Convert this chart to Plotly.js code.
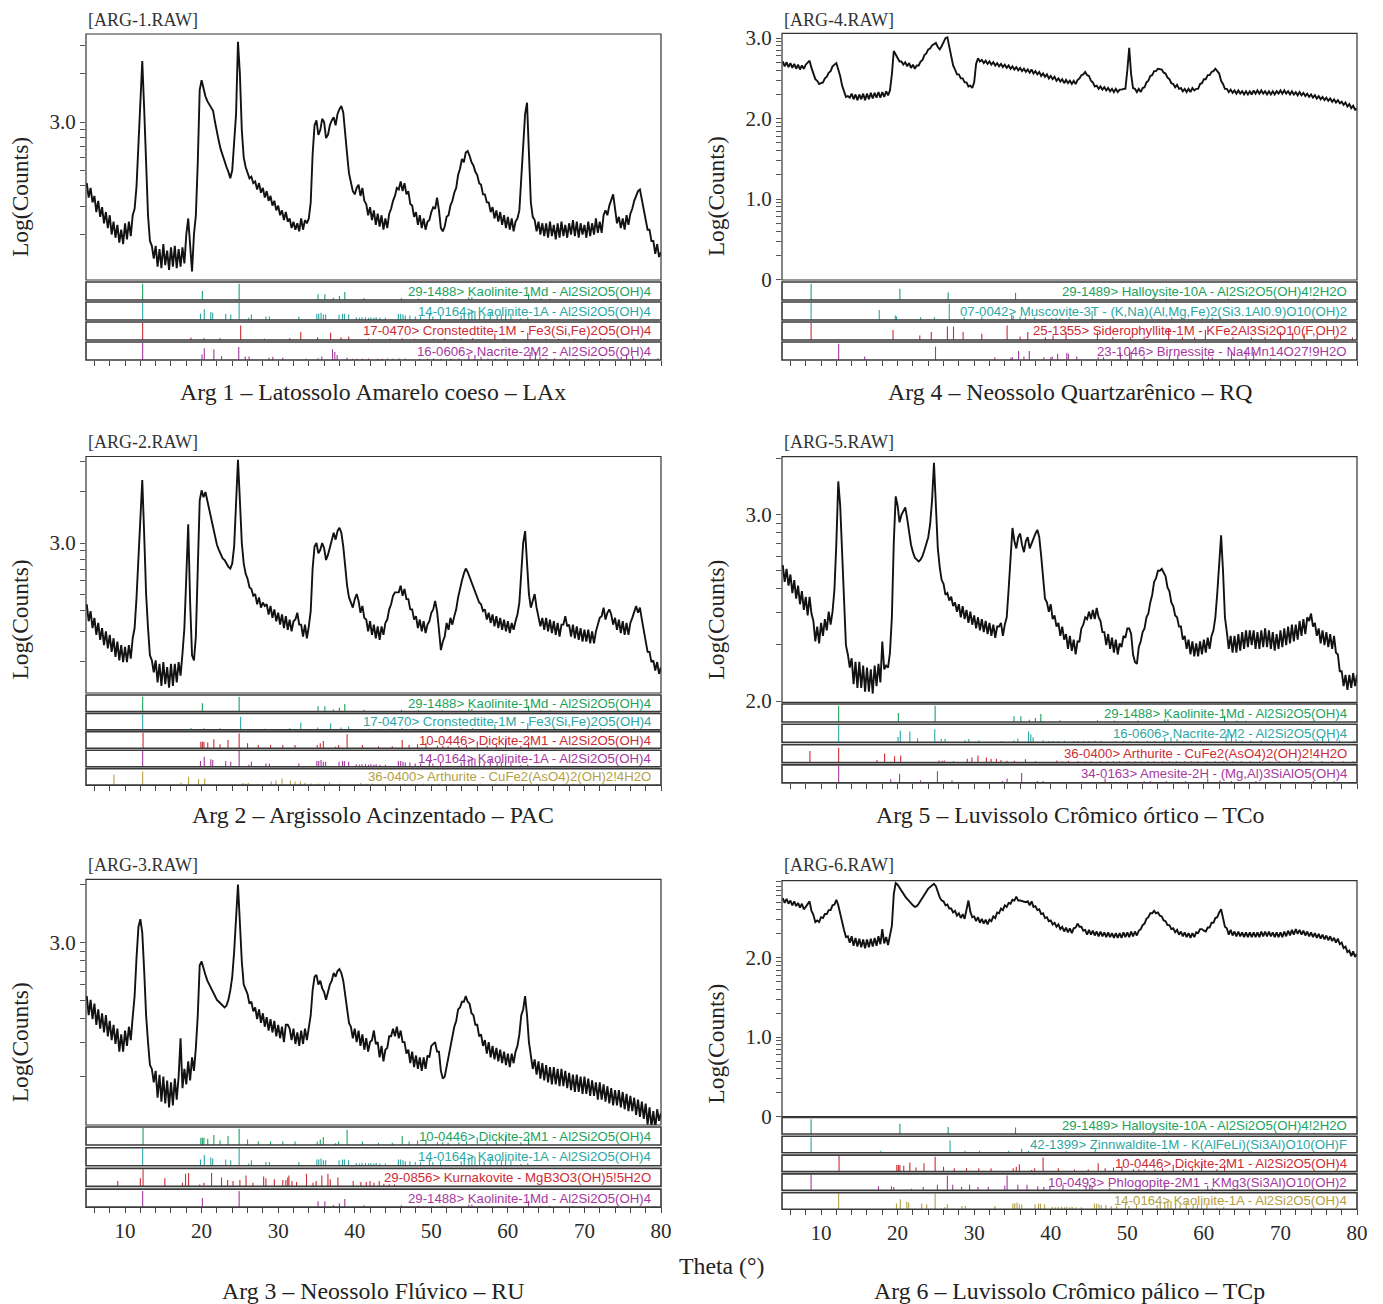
<!DOCTYPE html>
<html><head><meta charset="utf-8">
<script src="https://cdn.plot.ly/plotly-3.0.1.min.js"></script>
<style>body{margin:0;background:#fff}#c{width:1383px;height:1304px}</style>
</head><body><div id="c"></div>
<script>
// ---------------- DATA ----------------
// scan: 2-theta from 5 to 80 deg, step 0.25 ; values = log10(counts)
const scanStart = 5, scanStep = 0.25;
const arg1 = [2.62,2.53,2.59,2.50, 2.54,2.44,2.51,2.41, 2.47,2.37,2.44,2.34, 2.42,2.30,2.38,2.28, 2.36,2.25,2.33,2.24,
 2.37,2.27,2.38,2.29, 2.42,2.46,2.60,2.88, 3.15,3.38,3.08,2.70, 2.42,2.26,2.23,2.15, 2.23,2.10,2.21,2.09,
 2.24,2.11,2.20,2.08, 2.22,2.10,2.23,2.09, 2.21,2.10,2.22,2.12, 2.30,2.40,2.22,2.07, 2.30,2.42,2.75,3.20,
 3.26,3.20,3.16,3.13, 3.11,3.09,3.07,3.00, 2.93,2.88,2.83,2.79, 2.76,2.72,2.69,2.65, 2.70,2.85,3.05,3.50,
 3.30,2.95,2.78,2.72, 2.69,2.65,2.66,2.62, 2.63,2.58,2.62,2.56, 2.59,2.53,2.57,2.51, 2.54,2.48,2.51,2.45,
 2.48,2.42,2.45,2.39, 2.44,2.38,2.40,2.34, 2.38,2.33,2.37,2.32, 2.40,2.33,2.39,2.37, 2.40,2.50,2.80,2.98,
 3.01,2.92,2.95,3.02, 3.00,2.90,2.92,2.98, 3.01,3.03,2.98,3.05, 3.08,3.10,3.06,2.95, 2.80,2.68,2.62,2.57,
 2.55,2.59,2.61,2.54, 2.59,2.51,2.49,2.42, 2.47,2.39,2.45,2.36, 2.43,2.35,2.42,2.33, 2.40,2.34,2.43,2.46,
 2.51,2.54,2.59,2.58, 2.63,2.57,2.62,2.55, 2.57,2.49,2.48,2.41, 2.44,2.36,2.42,2.34, 2.40,2.33,2.38,2.39,
 2.44,2.47,2.46,2.53, 2.45,2.34,2.32,2.35, 2.41,2.42,2.48,2.51, 2.56,2.59,2.67,2.71, 2.77,2.75,2.81,2.82,
 2.79,2.75,2.73,2.69, 2.67,2.62,2.61,2.55, 2.55,2.50,2.50,2.44, 2.47,2.40,2.45,2.38, 2.44,2.36,2.42,2.34,
 2.41,2.33,2.40,2.32, 2.38,2.40,2.45,2.65, 2.80,3.05,3.12,2.80, 2.50,2.41,2.39,2.32, 2.38,2.30,2.37,2.29,
 2.37,2.28,2.38,2.29, 2.36,2.27,2.37,2.28, 2.38,2.29,2.36,2.28, 2.37,2.30,2.39,2.29, 2.38,2.28,2.37,2.30,
 2.36,2.28,2.38,2.29, 2.37,2.30,2.40,2.31, 2.38,2.31,2.42,2.45, 2.42,2.48,2.51,2.55, 2.46,2.37,2.41,2.34,
 2.40,2.33,2.42,2.36, 2.43,2.46,2.51,2.54, 2.57,2.58,2.52,2.45, 2.41,2.33,2.33,2.26, 2.26,2.18,2.24,2.16, 2.19];
const arg2 = [2.64,2.54,2.60,2.50, 2.56,2.46,2.53,2.43, 2.50,2.40,2.48,2.38, 2.46,2.36,2.44,2.33, 2.42,2.31,2.40,2.30,
 2.39,2.30,2.40,2.32, 2.44,2.50,2.68,2.90, 3.15,3.37,3.05,2.70, 2.50,2.34,2.31,2.24, 2.31,2.18,2.29,2.16,
 2.30,2.17,2.27,2.15, 2.29,2.16,2.29,2.18, 2.30,2.22,2.35,2.50, 2.80,3.11,2.65,2.34, 2.31,2.45,2.85,3.25,
 3.31,3.27,3.30,3.25, 3.20,3.14,3.08,3.03, 2.99,2.96,2.93,2.91, 2.90,2.88,2.86,2.85, 2.88,2.98,3.20,3.49,
 3.25,3.00,2.88,2.82, 2.79,2.74,2.73,2.69, 2.70,2.64,2.68,2.62, 2.65,2.63,2.64,2.58, 2.63,2.56,2.61,2.54,
 2.59,2.52,2.58,2.50, 2.57,2.49,2.55,2.48, 2.54,2.55,2.59,2.52, 2.52,2.45,2.52,2.44, 2.51,2.60,2.85,2.98,
 3.00,2.94,2.96,3.00, 2.97,2.90,2.93,2.98, 3.02,3.06,3.02,3.07, 3.09,3.06,2.98,2.85, 2.75,2.68,2.65,2.62,
 2.67,2.70,2.66,2.59, 2.63,2.56,2.55,2.48, 2.54,2.46,2.52,2.44, 2.51,2.43,2.51,2.46, 2.53,2.55,2.61,2.64,
 2.69,2.71,2.71,2.71, 2.75,2.69,2.73,2.67, 2.67,2.61,2.61,2.55, 2.57,2.50,2.55,2.48, 2.54,2.47,2.52,2.54,
 2.59,2.61,2.66,2.60, 2.49,2.37,2.42,2.45, 2.53,2.49,2.56,2.52, 2.57,2.61,2.68,2.74, 2.78,2.82,2.85,2.83,
 2.80,2.77,2.74,2.71, 2.69,2.65,2.64,2.60, 2.61,2.55,2.59,2.53, 2.58,2.51,2.57,2.50, 2.56,2.49,2.55,2.48,
 2.54,2.47,2.53,2.49, 2.54,2.58,2.65,2.85, 3.00,3.07,2.90,2.70, 2.62,2.66,2.70,2.62, 2.57,2.51,2.56,2.49,
 2.56,2.48,2.55,2.47, 2.54,2.46,2.53,2.45, 2.52,2.52,2.57,2.51, 2.52,2.45,2.52,2.44, 2.51,2.43,2.50,2.42,
 2.49,2.42,2.49,2.41, 2.48,2.41,2.48,2.52, 2.56,2.57,2.62,2.55, 2.59,2.61,2.58,2.52, 2.56,2.49,2.55,2.47,
 2.54,2.46,2.53,2.46, 2.53,2.56,2.60,2.63, 2.59,2.62,2.55,2.48, 2.43,2.36,2.36,2.30, 2.31,2.25,2.30,2.23, 2.27];
const arg3 = [2.72,2.62,2.70,2.60, 2.68,2.57,2.65,2.55, 2.63,2.53,2.62,2.51, 2.59,2.49,2.57,2.47, 2.55,2.43,2.52,2.43,
 2.54,2.46,2.56,2.49, 2.61,2.72,2.92,3.08, 3.12,3.05,2.85,2.62, 2.48,2.36,2.34,2.27, 2.33,2.19,2.31,2.17,
 2.30,2.16,2.28,2.14, 2.27,2.15,2.29,2.18, 2.30,2.50,2.24,2.34, 2.26,2.38,2.28,2.40, 2.33,2.45,2.62,2.88,
 2.90,2.86,2.83,2.80, 2.78,2.76,2.74,2.72, 2.70,2.69,2.68,2.67, 2.66,2.67,2.70,2.75, 2.82,2.95,3.10,3.30,
 3.10,2.90,2.78,2.75, 2.73,2.68,2.69,2.64, 2.66,2.60,2.65,2.58, 2.63,2.56,2.61,2.54, 2.60,2.53,2.59,2.51,
 2.57,2.50,2.56,2.48, 2.57,2.57,2.55,2.49, 2.55,2.47,2.53,2.46, 2.54,2.47,2.55,2.49, 2.56,2.62,2.75,2.82,
 2.83,2.78,2.80,2.76, 2.74,2.70,2.74,2.78, 2.80,2.84,2.82,2.85, 2.86,2.84,2.80,2.72, 2.65,2.58,2.56,2.50,
 2.55,2.48,2.54,2.46, 2.52,2.44,2.50,2.43, 2.48,2.49,2.54,2.47, 2.48,2.40,2.46,2.38, 2.44,2.45,2.51,2.51,
 2.55,2.51,2.56,2.50, 2.54,2.48,2.48,2.42, 2.44,2.37,2.43,2.35, 2.41,2.34,2.40,2.33, 2.40,2.34,2.41,2.40,
 2.46,2.47,2.48,2.43, 2.43,2.33,2.29,2.30, 2.35,2.39,2.46,2.49, 2.56,2.59,2.65,2.66, 2.69,2.69,2.72,2.69,
 2.68,2.63,2.62,2.57, 2.57,2.51,2.52,2.46, 2.49,2.42,2.48,2.40, 2.46,2.39,2.45,2.38, 2.44,2.37,2.43,2.36,
 2.42,2.35,2.42,2.37, 2.43,2.46,2.52,2.62, 2.65,2.72,2.62,2.48, 2.41,2.34,2.39,2.31, 2.38,2.29,2.37,2.28,
 2.36,2.27,2.35,2.26, 2.35,2.26,2.34,2.25, 2.34,2.25,2.33,2.24, 2.32,2.23,2.31,2.22, 2.31,2.22,2.30,2.21,
 2.30,2.21,2.29,2.20, 2.28,2.20,2.27,2.18, 2.27,2.18,2.26,2.17, 2.25,2.16,2.24,2.15, 2.23,2.15,2.23,2.14,
 2.22,2.13,2.21,2.12, 2.20,2.12,2.19,2.10, 2.18,2.09,2.17,2.08, 2.16,2.05,2.14,2.04, 2.12,2.03,2.13,2.07, 2.11];
const arg4 = [2.71,2.65,2.70,2.64, 2.69,2.63,2.68,2.62, 2.67,2.61,2.66,2.62, 2.67,2.70,2.72,2.63, 2.57,2.49,2.47,2.43,
 2.44,2.45,2.50,2.52, 2.57,2.59,2.65,2.67, 2.69,2.61,2.53,2.41, 2.35,2.27,2.28,2.26, 2.31,2.24,2.30,2.23,
 2.30,2.24,2.31,2.23, 2.31,2.24,2.32,2.25, 2.32,2.26,2.33,2.26, 2.33,2.27,2.34,2.29, 2.35,2.55,2.84,2.80,
 2.75,2.71,2.71,2.67, 2.70,2.65,2.69,2.63, 2.67,2.62,2.66,2.66, 2.71,2.73,2.79,2.81, 2.86,2.87,2.91,2.92,
 2.94,2.89,2.86,2.90, 2.95,3.00,3.01,2.88, 2.75,2.66,2.61,2.55, 2.55,2.50,2.50,2.45, 2.45,2.40,2.41,2.38,
 2.45,2.68,2.75,2.71, 2.73,2.69,2.72,2.68, 2.71,2.67,2.70,2.66, 2.69,2.65,2.68,2.64, 2.67,2.63,2.66,2.62,
 2.65,2.61,2.64,2.60, 2.63,2.59,2.62,2.58, 2.61,2.57,2.61,2.56, 2.59,2.55,2.58,2.53, 2.56,2.52,2.55,2.50,
 2.53,2.49,2.52,2.47, 2.50,2.46,2.49,2.44, 2.48,2.44,2.47,2.43, 2.47,2.43,2.48,2.50, 2.54,2.55,2.58,2.54,
 2.53,2.47,2.45,2.40, 2.41,2.37,2.40,2.36, 2.39,2.35,2.38,2.34, 2.37,2.33,2.37,2.33, 2.36,2.36,2.37,2.37,
 2.60,2.88,2.55,2.38, 2.37,2.33,2.37,2.33, 2.38,2.39,2.45,2.47, 2.53,2.54,2.59,2.59, 2.62,2.61,2.61,2.57,
 2.56,2.51,2.49,2.44, 2.43,2.39,2.42,2.37, 2.38,2.34,2.37,2.33, 2.37,2.33,2.38,2.35, 2.37,2.37,2.43,2.44,
 2.49,2.49,2.54,2.54, 2.58,2.59,2.62,2.59, 2.56,2.47,2.43,2.37, 2.37,2.33,2.36,2.32, 2.35,2.31,2.35,2.31,
 2.34,2.30,2.34,2.30, 2.34,2.30,2.35,2.31, 2.35,2.31,2.35,2.31, 2.34,2.30,2.34,2.30, 2.34,2.30,2.34,2.31,
 2.35,2.31,2.35,2.31, 2.34,2.30,2.34,2.30, 2.33,2.29,2.33,2.29, 2.32,2.28,2.31,2.27, 2.30,2.26,2.29,2.25,
 2.28,2.24,2.27,2.23, 2.26,2.22,2.25,2.21, 2.24,2.20,2.23,2.19, 2.21,2.17,2.20,2.15, 2.18,2.13,2.16,2.11, 2.12];
const arg5 = [2.73,2.64,2.71,2.62, 2.68,2.58,2.65,2.55, 2.62,2.52,2.59,2.49, 2.56,2.46,2.56,2.47, 2.43,2.32,2.40,2.31,
 2.42,2.35,2.44,2.38, 2.48,2.41,2.48,2.60, 2.85,3.18,3.05,2.80, 2.50,2.30,2.25,2.18, 2.23,2.09,2.21,2.07,
 2.21,2.07,2.19,2.05, 2.18,2.05,2.17,2.04, 2.19,2.08,2.20,2.10, 2.32,2.17,2.19,2.18, 2.26,2.45,2.85,3.10,
 3.05,2.96,3.00,3.02, 3.04,2.98,2.90,2.84, 2.80,2.77,2.76,2.75, 2.76,2.78,2.81,2.85, 2.88,2.95,3.08,3.28,
 3.00,2.82,2.72,2.65, 2.63,2.57,2.58,2.54, 2.56,2.51,2.53,2.48, 2.52,2.45,2.51,2.44, 2.49,2.42,2.48,2.41,
 2.46,2.39,2.45,2.38, 2.44,2.37,2.43,2.36, 2.42,2.35,2.41,2.34, 2.40,2.40,2.42,2.35, 2.41,2.45,2.60,2.80,
 2.93,2.86,2.82,2.88, 2.90,2.84,2.80,2.86, 2.88,2.82,2.85,2.88, 2.90,2.92,2.88,2.78, 2.65,2.55,2.53,2.48,
 2.52,2.44,2.46,2.40, 2.42,2.35,2.40,2.33, 2.36,2.28,2.35,2.27, 2.33,2.25,2.32,2.32, 2.39,2.41,2.45,2.44,
 2.48,2.44,2.49,2.44, 2.50,2.45,2.43,2.37, 2.37,2.30,2.36,2.28, 2.34,2.26,2.33,2.25, 2.31,2.29,2.35,2.34,
 2.39,2.39,2.36,2.25, 2.21,2.20,2.29,2.32, 2.37,2.39,2.45,2.47, 2.53,2.57,2.64,2.66, 2.70,2.70,2.71,2.69,
 2.67,2.61,2.59,2.53, 2.51,2.46,2.45,2.40, 2.40,2.33,2.35,2.28, 2.33,2.25,2.32,2.24, 2.31,2.24,2.32,2.25,
 2.33,2.26,2.34,2.28, 2.35,2.38,2.45,2.58, 2.75,2.89,2.70,2.45, 2.37,2.28,2.35,2.26, 2.35,2.26,2.36,2.27,
 2.37,2.28,2.38,2.29, 2.38,2.30,2.38,2.28, 2.37,2.28,2.38,2.29, 2.39,2.29,2.38,2.28, 2.37,2.27,2.36,2.28,
 2.38,2.29,2.39,2.30, 2.40,2.31,2.41,2.32, 2.41,2.33,2.43,2.35, 2.44,2.36,2.45,2.43, 2.47,2.40,2.42,2.35,
 2.39,2.31,2.38,2.30, 2.37,2.29,2.36,2.28, 2.35,2.26,2.25,2.16, 2.16,2.08,2.14,2.06, 2.14,2.07,2.15,2.08, 2.14];
const arg6 = [2.75,2.69,2.74,2.68, 2.72,2.66,2.71,2.65, 2.69,2.63,2.68,2.61, 2.64,2.67,2.71,2.59, 2.54,2.45,2.47,2.45,
 2.51,2.50,2.55,2.55, 2.60,2.60,2.66,2.67, 2.73,2.66,2.55,2.42, 2.35,2.26,2.27,2.19, 2.27,2.15,2.25,2.14,
 2.24,2.13,2.23,2.12, 2.23,2.13,2.24,2.14, 2.25,2.15,2.27,2.17, 2.36,2.18,2.26,2.16, 2.28,2.40,2.80,2.94,
 2.92,2.88,2.84,2.80, 2.77,2.74,2.71,2.68, 2.66,2.64,2.65,2.68, 2.72,2.76,2.80,2.84, 2.87,2.89,2.91,2.93,
 2.90,2.82,2.76,2.72, 2.71,2.66,2.67,2.62, 2.62,2.57,2.59,2.53, 2.56,2.50,2.55,2.49, 2.60,2.72,2.58,2.51,
 2.52,2.46,2.51,2.44, 2.49,2.43,2.48,2.42, 2.48,2.46,2.52,2.50, 2.57,2.56,2.62,2.60, 2.66,2.64,2.69,2.68,
 2.73,2.72,2.77,2.72, 2.72,2.71,2.71,2.70, 2.71,2.66,2.71,2.64, 2.65,2.60,2.61,2.55, 2.56,2.50,2.51,2.46,
 2.47,2.42,2.44,2.39, 2.42,2.36,2.39,2.33, 2.38,2.32,2.37,2.31, 2.37,2.38,2.43,2.39, 2.39,2.34,2.35,2.29,
 2.35,2.29,2.34,2.28, 2.33,2.27,2.33,2.27, 2.32,2.26,2.32,2.26, 2.31,2.25,2.31,2.25, 2.31,2.25,2.32,2.26,
 2.32,2.26,2.33,2.27, 2.33,2.28,2.34,2.36, 2.41,2.43,2.49,2.51, 2.56,2.56,2.59,2.56, 2.57,2.53,2.52,2.47,
 2.46,2.41,2.41,2.36, 2.37,2.32,2.35,2.29, 2.33,2.27,2.32,2.26, 2.31,2.25,2.31,2.26, 2.32,2.31,2.36,2.36,
 2.34,2.33,2.38,2.38, 2.44,2.44,2.50,2.51, 2.57,2.61,2.50,2.39, 2.37,2.29,2.35,2.28, 2.33,2.27,2.33,2.27,
 2.32,2.26,2.32,2.26, 2.32,2.26,2.32,2.26, 2.32,2.26,2.33,2.27, 2.33,2.27,2.33,2.27, 2.32,2.26,2.32,2.26,
 2.32,2.26,2.33,2.27, 2.34,2.28,2.35,2.29, 2.36,2.30,2.35,2.29, 2.34,2.28,2.33,2.27, 2.32,2.26,2.31,2.25,
 2.30,2.24,2.29,2.23, 2.28,2.22,2.27,2.21, 2.25,2.19,2.24,2.17, 2.19,2.12,2.14,2.07, 2.09,2.02,2.08,2.01, 2.05];

// reference cards: 2-theta positions and relative intensities
const kao1MdPos=[12.3,20.1,24.9,35.2,36.1,37.2,38.0,38.7,41.2,46.1,48.3,51.4,54.9,55.3,62.7,64.3,65.5,68.4,72.5,74.3];
const kao1MdInt=[0.9,0.5,0.9,0.32,0.32,0.12,0.22,0.45,0.1,0.1,0.08,0.08,0.15,0.15,0.35,0.08,0.07,0.05,0.05,0.07];
const kao1APos=[12.3,19.85,20.35,21.2,21.45,23.15,23.8,24.9,26.15,26.5,28.4,28.85,32.7,35.05,35.3,35.6,35.9,36.2,37.95,38.4,38.65,39.2,40.2,40.6,40.95,41.4,41.8,42.1,42.5,42.8,43.3,44.0,45.7,46.0,46.3,46.6,47.2,47.9,48.6,49.75,50.2,51.2,53.9,54.3,54.9,55.3,55.7,56.3,56.9,57.7,58.6,59.15,59.7,60.4,61.7,62.6];
const kao1AInt=[0.95,0.35,0.6,0.45,0.4,0.35,0.3,0.95,0.12,0.3,0.2,0.2,0.2,0.35,0.35,0.4,0.3,0.3,0.3,0.35,0.35,0.3,0.15,0.12,0.15,0.15,0.12,0.15,0.12,0.15,0.12,0.12,0.35,0.35,0.3,0.25,0.25,0.2,0.2,0.35,0.2,0.25,0.25,0.3,0.45,0.5,0.5,0.35,0.25,0.4,0.25,0.3,0.3,0.35,0.1,0.15];
const cronPos=[12.3,18.6,20.3,22.4,25.1,28.2,31.5,32.95,35.15,36.85,38.2,39.2,41.8,44.6,46.2,47.8,50.3,51.75,53.9,55.4,58.3,59.5,62.6,64.95,66.6,68.7,70.4,72.1,72.6,76.5];
const cronInt=[0.95,0.12,0.1,0.1,0.8,0.07,0.1,0.45,0.15,0.4,0.15,0.2,0.07,0.07,0.1,0.07,0.07,0.1,0.1,0.1,0.35,0.07,0.4,0.07,0.07,0.07,0.1,0.1,0.07,0.1];
const nacPos=[12.3,20.05,20.35,21.6,22.6,24.85,25.7,26.2,28.8,29.3,30.6,33.6,35.2,35.7,37.1,37.4,37.7,39.0,39.7,40.3,41.0,41.8,43.0,43.6,44.3,45.0,45.8,46.6,48.5,49.5,50.3,51.3,52.6,53.6,54.9,55.7,56.5,57.4,58.4,59.6,62.9,63.6,64.2,65.0,66.1,67.5,69.0,70.5,72.3,74.8,75.5,76.3,77.7,79.6];
const nacInt=[0.95,0.3,0.65,0.6,0.22,0.72,0.2,0.2,0.12,0.18,0.12,0.07,0.1,0.2,0.6,0.45,0.28,0.12,0.07,0.07,0.07,0.08,0.07,0.07,0.08,0.07,0.08,0.08,0.07,0.08,0.08,0.07,0.08,0.08,0.28,0.28,0.18,0.08,0.07,0.08,0.45,0.45,0.18,0.1,0.1,0.1,0.07,0.07,0.08,0.18,0.32,0.22,0.1,0.1];
const dicPos=[12.35,19.9,20.1,20.3,20.8,21.6,22.4,23.45,24.9,26.0,27.4,29.0,30.6,32.2,35.1,35.5,35.9,37.5,37.9,39.0,41.0,43.1,44.9,46.2,47.1,48.2,49.3,50.8,51.5,52.2,53.6,54.6,56.0,57.3,58.5,59.7,61.7,62.7];
const dicInt=[0.95,0.4,0.4,0.4,0.35,0.55,0.25,0.5,0.9,0.3,0.2,0.2,0.2,0.2,0.2,0.3,0.45,0.1,0.2,0.85,0.2,0.12,0.12,0.5,0.2,0.25,0.32,0.15,0.15,0.13,0.15,0.2,0.42,0.15,0.2,0.52,0.15,0.4];
const arthPos=[8.55,12.3,17.3,18.3,19.6,20.4,25.4,25.8,26.1,27.3,29.1,29.7,30.5,31.6,32.2,32.9,33.5,34.3,35.25,36.7,38.0,40.8,41.5,42.3,43.6,44.5,45.3,46.5,47.4,48.2,49.0,50.1,51.0,51.8,52.7,53.5,54.6,55.5,56.4,57.5,58.4,59.2,60.4,61.5,62.6,63.8,64.9,66.1,67.3,68.5,69.8,71.2,72.6,74.1,75.4,76.8,78.2,79.5];
const arthInt=[0.65,0.82,0.15,0.5,0.35,0.4,0.12,0.1,0.12,0.08,0.22,0.28,0.4,0.28,0.22,0.22,0.14,0.1,0.1,0.18,0.08,0.12,0.08,0.1,0.08,0.08,0.07,0.08,0.07,0.08,0.08,0.07,0.08,0.07,0.08,0.07,0.08,0.07,0.08,0.07,0.08,0.07,0.08,0.07,0.07,0.08,0.07,0.07,0.07,0.08,0.07,0.07,0.08,0.07,0.07,0.07,0.07,0.07];
const hallPos=[8.7,20.3,26.6,35.4,55.1,63.2,74.4];
const hallInt=[0.9,0.62,0.42,0.4,0.08,0.08,0.08];
const muscPos=[8.7,17.6,19.7,19.86,23.0,24.8,26.75,28.7,31.0,34.9,35.1,36.0,36.7,37.9,40.1,40.7,41.2,42.4,45.4,55.8,57.1,59.8,61.1,62.1];
const muscInt=[0.95,0.55,0.25,0.2,0.15,0.15,0.9,0.15,0.2,0.3,0.25,0.2,0.15,0.15,0.1,0.12,0.1,0.15,0.5,0.15,0.1,0.1,0.12,0.2];
const sidPos=[8.7,19.4,22.9,24.4,26.5,27.3,28.55,31.0,34.3,36.0,37.0,39.3,40.3,42.0,46.1,48.1,50.4,52.2,55.4,57.2,58.8,60.2,63.8,66.2,68.0,70.0,71.6,73.1,74.8,77.1,79.4];
const sidInt=[0.95,0.55,0.25,0.45,0.75,0.75,0.45,0.35,0.8,0.2,0.45,0.15,0.25,0.45,0.45,0.15,0.15,0.15,0.65,0.15,0.15,0.55,0.15,0.15,0.15,0.45,0.4,0.35,0.3,0.2,0.15];
const birPos=[12.3,15.7,24.95,32.7,34.8,35.0,35.8,36.5,37.2,39.1,40.0,40.2,40.9,42.1,42.3,43.4,46.2,46.9,49.1,50.3,50.5,52.2,55.5,56.6,59.8,60.6,61.1,63.6,65.5,66.5,68.7];
const birInt=[0.9,0.2,0.75,0.15,0.12,0.15,0.5,0.2,0.5,0.15,0.15,0.2,0.35,0.4,0.35,0.2,0.15,0.15,0.4,0.45,0.45,0.2,0.25,0.3,0.2,0.15,0.15,0.45,0.5,0.45,0.1];
const amePos=[12.3,19.1,20.25,23.0,25.2,27.1,33.7,34.3,36.2,38.25,39.0,47.1,52.2,53.0,55.1,57.6,60.5,62.1,63.6,66.8,74.3,77.0];
const ameInt=[0.95,0.2,0.5,0.15,0.65,0.15,0.1,0.25,0.55,0.1,0.1,0.25,0.1,0.1,0.1,0.1,0.25,0.15,0.1,0.1,0.1,0.1];
const kurPos=[9.05,12.0,12.35,15.2,17.5,17.9,18.3,19.75,20.3,21.3,22.6,23.4,24.1,25.0,25.8,26.7,28.1,28.4,29.5,30.6,31.0,31.25,31.4,31.8,32.4,33.7,34.55,34.95,35.7,36.5,36.8,37.8,39.8,40.8,41.5,42.0,42.5,43.2,43.8,44.5,45.2];
const kurInt=[0.3,0.45,0.95,0.45,0.2,0.7,0.75,0.1,0.2,0.75,0.5,0.35,0.3,0.35,0.6,0.2,0.55,0.45,0.4,0.35,0.35,0.5,0.6,0.3,0.25,0.7,0.2,0.3,0.6,0.7,0.4,0.5,0.3,0.25,0.25,0.3,0.2,0.3,0.15,0.12,0.12];
const zinPos=[8.7,17.8,26.85,28.8,30.7,34.5,36.2,37.1,42.0,45.8,55.4,61.2,66.2];
const zinInt=[0.95,0.12,0.75,0.12,0.12,0.12,0.25,0.12,0.1,0.3,0.1,0.12,0.1];
const phlPos=[8.7,17.5,19.2,19.5,21.8,23.35,25.2,26.5,27.2,28.35,29.4,30.5,31.85,34.0,34.3,35.7,36.9,38.3,39.1,39.9,41.6,44.6,45.1,45.4,47.7,52.7,54.9,60.5,61.1];
const phlInt=[0.95,0.25,0.25,0.2,0.1,0.2,0.35,0.9,0.35,0.2,0.35,0.2,0.2,0.3,0.9,0.35,0.35,0.25,0.2,0.2,0.35,0.25,0.35,0.25,0.15,0.1,0.35,0.3,0.15];

const L_KAO1MD='29-1488> Kaolinite-1Md - Al2Si2O5(OH)4';
const L_KAO1A='14-0164> Kaolinite-1A - Al2Si2O5(OH)4';
const L_CRON='17-0470> Cronstedtite-1M - Fe3(Si,Fe)2O5(OH)4';
const L_NAC='16-0606> Nacrite-2M2 - Al2Si2O5(OH)4';
const L_DIC='10-0446> Dickite-2M1 - Al2Si2O5(OH)4';
const L_ARTH='36-0400> Arthurite - CuFe2(AsO4)2(OH)2!4H2O';
const L_KUR='29-0856> Kurnakovite - MgB3O3(OH)5!5H2O';
const L_HALL='29-1489> Halloysite-10A - Al2Si2O5(OH)4!2H2O';
const L_MUSC='07-0042> Muscovite-3T - (K,Na)(Al,Mg,Fe)2(Si3.1Al0.9)O10(OH)2';
const L_SID='25-1355> Siderophyllite-1M - KFe2Al3Si2O10(F,OH)2';
const L_BIR='23-1046> Birnessite - Na4Mn14O27!9H2O';
const L_AME='34-0163> Amesite-2H - (Mg,Al)3SiAlO5(OH)4';
const L_ZIN='42-1399> Zinnwaldite-1M - K(AlFeLi)(Si3Al)O10(OH)F';
const L_PHL='10-0493> Phlogopite-2M1 - KMg3(Si3Al)O10(OH)2';

const fileNames=['[ARG-1.RAW]','[ARG-2.RAW]','[ARG-3.RAW]','[ARG-4.RAW]','[ARG-5.RAW]','[ARG-6.RAW]'];
const captions=['Arg 1 – Latossolo Amarelo coeso – LAx','Arg 2 – Argissolo Acinzentado – PAC','Arg 3 – Neossolo Flúvico – RU',
 'Arg 4 – Neossolo Quartzarênico – RQ','Arg 5 – Luvissolo Crômico órtico – TCo','Arg 6 – Luvissolo Crômico pálico – TCp'];
const xTickLabels=['10','20','30','40','50','60','70','80'];
const xTitle='Theta (°)', yTitle='Log(Counts)';

// ---------------- STYLE / LAYOUT ----------------
const W=1383,H=1304;
const C={g:'#1ba25e',t:'#2ba7a4',r:'#cc2b34',m:'#a5399e',o:'#b4a043'};
const SERIF='"Liberation Serif","Times New Roman",serif', SANS='"Liberation Sans",Arial,sans-serif';
const cols=[[86,661],[782,1357]];
const panels=[
 {data:arg1,col:0,top:34,bot:280,yr:[2.017,3.548],sTop:282,sPitch:20,sH:18,titleY:20,capY:392,
  strips:[[kao1MdPos,kao1MdInt,C.g,L_KAO1MD],[kao1APos,kao1AInt,C.t,L_KAO1A],[cronPos,cronInt,C.r,L_CRON],[nacPos,nacInt,C.m,L_NAC]]},
 {data:arg2,col:0,top:456.5,bot:693,yr:[2.118,3.509],sTop:695,sPitch:18.4,sH:16.5,titleY:442,capY:815,
  strips:[[kao1MdPos,kao1MdInt,C.g,L_KAO1MD],[cronPos,cronInt,C.t,L_CRON],[dicPos,dicInt,C.r,L_DIC],[kao1APos,kao1AInt,C.m,L_KAO1A],[arthPos,arthInt,C.o,L_ARTH]]},
 {data:arg3,col:0,top:879.3,bot:1125,yr:[2.048,3.328],sTop:1127,sPitch:20.7,sH:18,titleY:865,capY:1291,labels:true,
  strips:[[dicPos,dicInt,C.g,L_DIC],[kao1APos,kao1AInt,C.t,L_KAO1A],[kurPos,kurInt,C.r,L_KUR],[kao1MdPos,kao1MdInt,C.m,L_KAO1MD]]},
 {data:arg4,col:1,top:33.3,bot:280,yr:[-0.005,3.06],sTop:282,sPitch:20,sH:18,titleY:20,capY:392,
  strips:[[hallPos,hallInt,C.g,L_HALL],[muscPos,muscInt,C.t,L_MUSC],[sidPos,sidInt,C.r,L_SID],[birPos,birInt,C.m,L_BIR]]},
 {data:arg5,col:1,top:456.7,bot:702.3,yr:[1.993,3.313],sTop:704,sPitch:20.3,sH:18,titleY:442,capY:815,
  strips:[[kao1MdPos,kao1MdInt,C.g,L_KAO1MD],[nacPos,nacInt,C.t,L_NAC],[arthPos,arthInt,C.r,L_ARTH],[amePos,ameInt,C.m,L_AME]]},
 {data:arg6,col:1,top:880.7,bot:1116.5,yr:[0,2.97],sTop:1117.5,sPitch:18.8,sH:16.5,titleY:865,capY:1291,labels:true,
  strips:[[hallPos,hallInt,C.g,L_HALL],[zinPos,zinInt,C.t,L_ZIN],[dicPos,dicInt,C.r,L_DIC],[phlPos,phlInt,C.m,L_PHL],[kao1APos,kao1AInt,C.o,L_KAO1A]]}
];

const px=v=>v/W, py=v=>1-v/H;
const layout={width:W,height:H,margin:{l:0,r:0,t:0,b:0,pad:0},paper_bgcolor:'#fff',plot_bgcolor:'rgba(0,0,0,0)',
  showlegend:false,shapes:[],annotations:[],font:{family:SERIF,color:'#222'}};
const traces=[];
function logTicks(r){
  const vals=[],txt=[];
  for(let d=Math.floor(r[0]);d<=Math.ceil(r[1]);d++){
    for(let k=1;k<=9;k++){const v=d+Math.log10(k); if(v>=r[0]-1e-9&&v<=r[1]){vals.push(v);txt.push(k===1?(d===0?'0':d.toFixed(1)):'');}}
  }
  return {vals,txt};
}
const xMinor=[]; for(let t=6;t<=80;t+=2) xMinor.push(t);
let yId=0;
panels.forEach((p,i)=>{
  const xs=i===0?'':String(i+1);
  const [xl,xr]=cols[p.col];
  yId++; const ym=yId===1?'':String(yId);
  const lt=logTicks(p.yr);
  layout['yaxis'+ym]={domain:[py(p.bot),py(p.top)],range:p.yr,anchor:'x'+xs,tickmode:'array',tickvals:lt.vals,ticktext:lt.txt,
    ticks:'outside',ticklen:5,tickwidth:1,tickcolor:'#555',tickfont:{family:SERIF,size:21,color:'#2a2a2a'},
    showgrid:false,zeroline:false,showline:false,fixedrange:true};
  traces.push({type:'scatter',mode:'lines',x0:scanStart,dx:scanStep,y:p.data,xaxis:'x'+xs,yaxis:'y'+ym,
    line:{color:'#121212',width:1.9},hoverinfo:'skip'});
  layout.shapes.push({type:'rect',xref:'x'+xs+' domain',yref:'y'+ym+' domain',x0:0,x1:1,y0:0,y1:1,line:{color:'#333',width:1.2}});
  let lastY='';
  p.strips.forEach((s,j)=>{
    yId++; const yn=String(yId);
    const t=p.sTop+j*p.sPitch, b=t+p.sH;
    layout['yaxis'+yn]={domain:[py(b),py(t)],range:[0,1],anchor:'x'+xs,showticklabels:false,ticks:'',showgrid:false,zeroline:false,showline:false,fixedrange:true};
    const xx=[],yy=[];
    s[0].forEach((pos,k)=>{xx.push(pos,pos,null);yy.push(0,s[1][k],null);});
    traces.push({type:'scatter',mode:'lines',x:xx,y:yy,xaxis:'x'+xs,yaxis:'y'+yn,line:{color:s[2],width:1.1},hoverinfo:'skip',connectgaps:false});
    layout.shapes.push({type:'rect',xref:'x'+xs+' domain',yref:'y'+yn+' domain',x0:0,x1:1,y0:0,y1:1,line:{color:'#3a3a3a',width:1.6}});
    layout.annotations.push({xref:'paper',yref:'paper',x:px(xr-8),y:py(t+p.sH/2),xanchor:'right',yanchor:'middle',showarrow:false,
      text:s[3],font:{family:SANS,size:13.2,color:s[2]}});
    lastY=yn;
  });
  layout['xaxis'+xs]={domain:[px(xl),px(xr)],range:[4.9,80],anchor:'y'+lastY,tickmode:'array',tickvals:xMinor,
    ticktext:xMinor.map(v=>(p.labels&&v%10===0)?xTickLabels[v/10-1]:''),ticks:'outside',ticklen:5,tickwidth:1,tickcolor:'#444',
    tickfont:{family:SERIF,size:21,color:'#2a2a2a'},showgrid:false,zeroline:false,showline:false,fixedrange:true};
  layout.annotations.push({xref:'paper',yref:'paper',x:px(xl),y:py(p.titleY),xanchor:'left',yanchor:'middle',showarrow:false,
    text:fileNames[i],font:{family:SERIF,size:18,color:'#333'}});
  layout.annotations.push({xref:'paper',yref:'paper',x:px(xl-66),y:py(p.top+163),xanchor:'center',yanchor:'middle',showarrow:false,textangle:-90,
    text:yTitle,font:{family:SERIF,size:23.5,color:'#222'}});
  layout.annotations.push({xref:'paper',yref:'paper',x:px((xl+xr)/2),y:py(p.capY),xanchor:'center',yanchor:'middle',showarrow:false,
    text:captions[i],font:{family:SERIF,size:23.8,color:'#222'}});
});
layout.annotations.push({xref:'paper',yref:'paper',x:px(722),y:py(1266),xanchor:'center',yanchor:'middle',showarrow:false,
  text:xTitle,font:{family:SERIF,size:23.8,color:'#222'}});
Plotly.newPlot('c',traces,layout,{staticPlot:true,displayModeBar:false});
</script></body></html>
